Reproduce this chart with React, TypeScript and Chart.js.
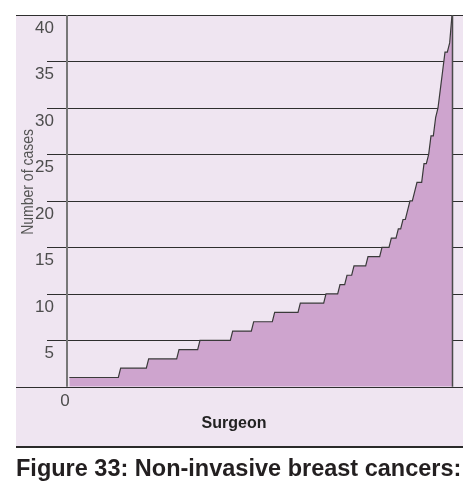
import React, { useEffect, useRef } from "react";
import { Chart, registerables } from "chart.js";

Chart.register(...registerables);

// Number of cases per surgeon (surgeons ranked in ascending order)
const caseLevels = [1, 2, 3, 4, 5, 6, 7, 8, 9, 10, 11, 12, 13, 14, 15, 16, 17, 18, 19, 20, 21, 22, 24, 25, 27, 29, 30, 32, 34, 36, 37, 40];
const surgeonsAtLevel = [22, 12, 13, 9, 14, 9, 9, 11, 11, 6, 3, 3, 6, 6, 4, 3, 2, 2, 1, 2, 1, 3, 2, 1, 2, 1, 1, 1, 1, 2, 1, 1];

const yTicks = [0, 5, 10, 15, 20, 25, 30, 35, 40];
const xTicks = [0];
const yTitle = "Number of cases";
const xTitle = "Surgeon";
const caption = "Figure 33: Non-invasive breast cancers:";

const FONT = '"Liberation Sans", Arial, Helvetica, sans-serif';

function buildPoints() {
  const pts: { x: number; y: number }[] = [];
  let rank = 1;
  caseLevels.forEach((lvl, i) => {
    for (let k = 0; k < surgeonsAtLevel[i]; k++) {
      pts.push({ x: rank, y: lvl });
      rank++;
    }
  });
  return pts;
}

export default function App() {
  const ref = useRef<HTMLCanvasElement>(null);

  useEffect(() => {
    const points = buildPoints();
    const xMax = points.length;
    const yMax = yTicks[yTicks.length - 1];

    const gridPlugin = {
      id: "gridPlugin",
      beforeDatasetsDraw(chart: any) {
        const { ctx, chartArea } = chart;
        const ys = chart.scales.y;
        ctx.save();
        ctx.strokeStyle = "#2e2e2e";
        ctx.lineWidth = 1;
        yTicks.forEach((v) => {
          const py = Math.round(ys.getPixelForValue(v)) + 0.5;
          const x0 = v === 0 || v === yMax ? 0 : chartArea.left - 20;
          ctx.beginPath();
          ctx.moveTo(x0, py);
          ctx.lineTo(chart.width, py);
          ctx.stroke();
        });
        // y-axis title
        ctx.save();
        ctx.fillStyle = "#555";
        ctx.font = `16px ${FONT}`;
        ctx.textAlign = "center";
        ctx.textBaseline = "middle";
        ctx.translate(ys.left + 13, (chartArea.top + chartArea.bottom) / 2 - 19);
        ctx.rotate(-Math.PI / 2);
        ctx.scale(0.875, 1);
        ctx.fillText(yTitle, 0, 0);
        ctx.restore();
        ctx.restore();
      },
      afterDatasetsDraw(chart: any) {
        const { ctx, chartArea } = chart;
        const xs = chart.scales.x;
        ctx.save();
        const x0 = Math.round(xs.getPixelForValue(0));
        ctx.strokeStyle = "#777";
        ctx.lineWidth = 2;
        ctx.beginPath();
        ctx.moveTo(x0, chartArea.top);
        ctx.lineTo(x0, chartArea.bottom);
        ctx.stroke();
        const x1 = Math.round(xs.getPixelForValue(xMax)) + 0.5;
        ctx.strokeStyle = "#4a4a4a";
        ctx.lineWidth = 1.5;
        ctx.beginPath();
        ctx.moveTo(x1, chartArea.top);
        ctx.lineTo(x1, chartArea.bottom);
        ctx.stroke();
        ctx.restore();
      },
    };

    const chart = new Chart(ref.current as HTMLCanvasElement, {
      type: "line",
      data: {
        datasets: [
          {
            data: points,
            fill: "origin",
            backgroundColor: "#CEA4CE",
            borderColor: "#3a3a3a",
            borderWidth: 1.2,
            pointRadius: 0,
            tension: 0,
          },
        ],
      },
      options: {
        animation: false,
        responsive: false,
        maintainAspectRatio: false,
        layout: { padding: { top: 7, right: 11, left: 0, bottom: 0 } },
        plugins: {
          legend: { display: false },
          tooltip: { enabled: false },
          title: {
            display: true,
            position: "bottom",
            text: xTitle,
            color: "#222",
            font: { family: FONT, size: 16, weight: "bold" },
            padding: { top: 3, bottom: 15 },
          },
        },
        scales: {
          x: {
            type: "linear",
            min: 0,
            max: xMax,
            grid: { display: false },
            border: { display: false },
            afterBuildTicks: (s: any) => {
              s.ticks = xTicks.map((v) => ({ value: v }));
            },
            ticks: {
              padding: -4,
              labelOffset: -2,
              maxRotation: 0,
              autoSkip: false,
              color: "#4d4d4d",
              font: { family: FONT, size: 17 },
            },
            afterFit: (s: any) => {
              s.height = 24;
              s.paddingLeft = 0;
              s.paddingRight = 0;
            },
          },
          y: {
            min: 0,
            max: yMax,
            grid: { display: false },
            border: { display: false },
            afterBuildTicks: (s: any) => {
              s.ticks = yTicks.map((v) => ({ value: v }));
            },
            ticks: {
              padding: 5,
              labelOffset: 13,
              color: "#4d4d4d",
              font: { family: FONT, size: 17 },
              callback: (v: any) => (v === 0 ? "" : String(v)),
            },
            afterFit: (s: any) => {
              s.width = 51;
              s.paddingTop = 0;
              s.paddingBottom = 0;
            },
          },
        },
      },
      plugins: [gridPlugin],
    } as any);

    return () => chart.destroy();
  }, []);

  return (
    <div
      style={{
        position: "fixed",
        left: 0,
        top: 0,
        width: 471,
        height: 488,
        background: "#fff",
        overflow: "hidden",
      }}
    >
      <div
        style={{
          position: "absolute",
          left: 16,
          top: 15,
          width: 447,
          height: 431,
          background: "#EFE5F1",
        }}
      />
      <canvas
        ref={ref}
        width={447}
        height={440}
        style={{ position: "absolute", left: 16, top: 8, width: 447, height: 440 }}
      />
      <div
        style={{
          position: "absolute",
          left: 16,
          top: 446,
          width: 447,
          height: 2,
          background: "#2a2a2a",
        }}
      />
      <div
        style={{
          position: "absolute",
          left: 16,
          top: 456,
          whiteSpace: "nowrap",
          font: `bold 23.5px ${FONT}`,
          lineHeight: "24px",
          color: "#231f20",
        }}
      >
        {caption}
      </div>
    </div>
  );
}
